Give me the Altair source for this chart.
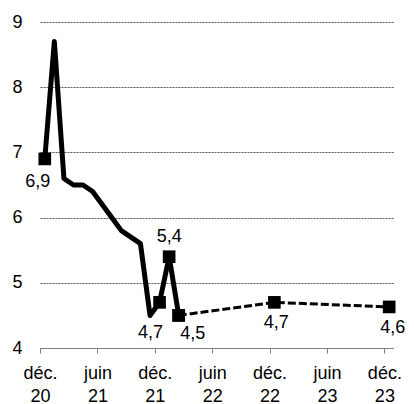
import altair as alt
import pandas as pd

# months counted from Dec 2020 (0) ; points sit mid-month
solid_months = list(range(0, 15))
solid_values = [6.9, 8.7, 6.6, 6.5, 6.5, 6.4, 6.2, 6.0, 5.8, 5.7, 5.6, 4.5, 4.7, 5.4, 4.5]
solid_marked = [True, False, False, False, False, False, False, False, False, False, False, False, True, True, True]

dash_months = [14, 24, 36]
dash_values = [4.5, 4.7, 4.63]

label_months = [0, 12, 13, 14, 24, 36]
label_values = [6.9, 4.7, 5.4, 4.5, 4.7, 4.63]
label_texts = ["6,9", "4,7", "5,4", "4,5", "4,7", "4,6"]

tick_months = [0, 6, 12, 18, 24, 30, 36]
tick_labels = [["déc.", "20"], ["juin", "21"], ["déc.", "21"], ["juin", "22"],
               ["déc.", "22"], ["juin", "23"], ["déc.", "23"]]

solid = pd.DataFrame({"m": solid_months, "v": solid_values, "mk": solid_marked})
solid["x"] = solid["m"] + 0.5
dash = pd.DataFrame({"m": dash_months, "v": dash_values})
dash["x"] = dash["m"] + 0.5
labels = pd.DataFrame({"m": label_months, "v": label_values, "t": label_texts})
labels["x"] = labels["m"] + 0.5

FONT = "Liberation Sans"
FS = 18

label_expr = "{" + ",".join(
    f"'{m}': ['{a}', '{b}']" for m, (a, b) in zip(tick_months, tick_labels)
) + "}[datum.value]"

xscale = alt.Scale(domain=[0, 36.9], nice=False, zero=False)
yscale = alt.Scale(domain=[4, 9], nice=False, zero=False)

xenc = alt.X("x:Q", scale=xscale, axis=alt.Axis(
    values=tick_months, labelExpr=label_expr, title=None, grid=False,
    domainColor="#808080", domainWidth=1, tickColor="#808080", tickSize=5,
    labelFont=FONT, labelFontSize=FS, labelColor="black", labelPadding=11,
    labelLineHeight=23, labelFlush=False))
yenc = alt.Y("v:Q", scale=yscale, axis=alt.Axis(
    values=[4, 5, 6, 7, 8, 9], format="d", title=None, domain=False, ticks=False,
    grid=True, gridDash=[2, 1], gridColor="#555555", gridWidth=1,
    labelFont=FONT, labelFontSize=FS, labelColor="black", labelPadding=18))

base_solid = alt.Chart(solid)
line_solid = base_solid.mark_line(color="black", strokeWidth=5, strokeJoin="round").encode(x=xenc, y=yenc)
pts_solid = base_solid.transform_filter("datum.mk").mark_point(
    shape="square", filled=True, color="black", size=160, opacity=1).encode(x="x:Q", y="v:Q")

base_dash = alt.Chart(dash)
line_dash = base_dash.mark_line(color="black", strokeWidth=3, strokeDash=[8, 3]).encode(x="x:Q", y="v:Q")
pts_dash = base_dash.mark_point(
    shape="square", filled=True, color="black", size=160, opacity=1).encode(x="x:Q", y="v:Q")

offsets = {0: (-7, 23, "center"), 12: (-9, 31, "center"), 13: (0, -20, "center"),
           14: (14, 19, "center"), 24: (2, 21, "center"), 36: (16, 21, "right")}
text_layers = []
for m, (dx, dy, al) in offsets.items():
    text_layers.append(
        alt.Chart(labels).transform_filter(f"datum.m == {m}").mark_text(
            font=FONT, fontSize=FS, color="black", dx=dx, dy=dy, baseline="middle", align=al
        ).encode(x="x:Q", y="v:Q", text="t:N")
    )

chart = alt.layer(line_solid, line_dash, pts_solid, pts_dash, *text_layers).properties(
    width=353, height=326,
    autosize=alt.AutoSizeParams(type="none"),
    padding={"left": 32, "top": 14, "right": 13, "bottom": 56},
).configure_view(stroke=None)

chart.save("out.html", embed_options={"renderer": "svg", "actions": False})
